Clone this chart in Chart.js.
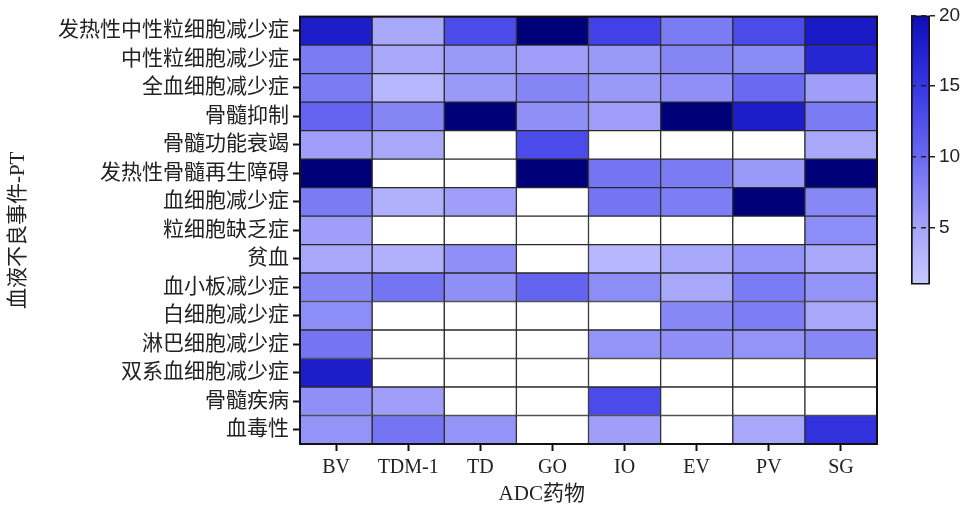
<!DOCTYPE html>
<html>
<head>
<meta charset="utf-8">
<script src="https://cdn.jsdelivr.net/npm/chart.js@4"></script>
<style>
html,body{margin:0;padding:0;background:#fff;}
#wrap{position:relative;width:963px;height:508px;}
canvas{position:absolute;left:0;top:0;}
</style>
</head>
<body>
<div id="wrap">
<canvas id="main" width="963" height="508"></canvas>
<canvas id="cb" width="83" height="300" style="left:880px;top:0;"></canvas>
</div>
<script>
// ---- data ----
const rowLabels = ['发热性中性粒细胞减少症','中性粒细胞减少症','全血细胞减少症','骨髓抑制','骨髓功能衰竭','发热性骨髓再生障碍','血细胞减少症','粒细胞缺乏症','贫血','血小板减少症','白细胞减少症','淋巴细胞减少症','双系血细胞减少症','骨髓疾病','血毒性'];
const drugs = ['BV','TDM-1','TD','GO','IO','EV','PV','SG'];
// null = no report (white cell); values above 20 are off-scale (navy)
const BV   = [18, 8.5, 8.5, 10.5, 5.5, 22, 8.5, 5.5, 4.7, 7.7, 7, 9, 18, 6.8, 6.4];
const TDM1 = [4.7, 4.7, 3, 7.7, 4.7, null, 3.8, null, 3.8, 9, null, null, null, 5.5, 9];
const TD   = [13, 6, 6, 22, null, null, 5.5, null, 6.8, 6.8, null, null, null, null, 6.4];
const GO   = [22, 5.5, 7.7, 6.8, 13, 22, null, null, null, 10.5, null, null, null, null, null];
const IO   = [14, 6, 6, 5.5, null, 9, 9, null, 3, 7, null, 6.4, null, 13, 5.5];
const EV   = [8.5, 7.7, 6.8, 22, null, 8.5, 8.3, null, 4.7, 4.7, 7.5, 6.8, null, null, null];
const PV   = [13, 7.2, 10, 18, null, 6, 22, null, 6.4, 8.5, 8.3, 6.4, null, null, 4.7];
const SG   = [18.5, 17, 5.5, 8.5, 4.7, 22, 7.5, 7, 4.7, 6.4, 4.7, 7.5, null, null, 15.7];
const colorTicks = [5, 10, 15, 20];
const scaleMin = 1, scaleMax = 20;

// ---- styling ----
const SERIF = "'Liberation Serif', 'Noto Sans CJK SC', serif";
const SANS = "'Liberation Sans', Arial, sans-serif";
const stops = [[1,[200,200,255]],[5,[165,165,250]],[10,[105,105,242]],[15,[55,55,228]],[20,[12,12,185]]];
function cellColor(v){
  if (v === null || v === undefined) return '#ffffff';
  if (v > scaleMax) return 'rgb(0,0,120)';
  if (v <= stops[0][0]) return 'rgb(' + stops[0][1].join(',') + ')';
  for (let i = 1; i < stops.length; i++) {
    if (v <= stops[i][0]) {
      const [a, ca] = stops[i-1], [b, cb] = stops[i];
      const t = (v - a) / (b - a);
      const c = ca.map((x, k) => Math.round(x + (cb[k] - x) * t));
      return 'rgb(' + c.join(',') + ')';
    }
  }
  return 'rgb(' + stops[stops.length-1][1].join(',') + ')';
}

const valueCols = [BV, TDM1, TD, GO, IO, EV, PV, SG];
const datasets = valueCols.map((vals, c) => ({
  label: drugs[c],
  data: rowLabels.map(() => [c, c + 1]),
  backgroundColor: vals.map(cellColor),
  borderColor: '#2a2a2a',
  borderWidth: 1,
  borderSkipped: false,
  barPercentage: 1,
  categoryPercentage: 1,
  grouped: false
}));

const framePlugin = {
  id: 'frame',
  afterDatasetsDraw(chart) {
    const {ctx, chartArea: a} = chart;
    ctx.save();
    ctx.strokeStyle = '#111';
    ctx.lineWidth = 2;
    ctx.strokeRect(a.left, a.top, a.right - a.left, a.bottom - a.top);
    ctx.restore();
  },
  afterDraw(chart) {
    const {ctx, chartArea: a} = chart;
    ctx.save();
    ctx.fillStyle = '#222';
    ctx.font = "21px " + SERIF;
    ctx.textAlign = 'center';
    ctx.textBaseline = 'middle';
    ctx.fillText('ADC药物', a.left + (a.right - a.left) * 0.419, a.bottom + 50);
    ctx.restore();
  }
};

new Chart(document.getElementById('main'), {
  type: 'bar',
  data: { labels: rowLabels, datasets },
  options: {
    indexAxis: 'y',
    responsive: false,
    animation: false,
    layout: { padding: { left: 4, right: 86, top: 14, bottom: 0 } },
    plugins: { legend: { display: false }, tooltip: { enabled: false } },
    scales: {
      x: {
        type: 'linear', min: 0, max: drugs.length,
        afterBuildTicks(s) { s.ticks = drugs.map((_, i) => ({ value: i + 0.5 })); },
        afterFit(s) { s.height = 64; },
        ticks: { callback: (v, i) => drugs[i], font: { family: SERIF, size: 20 }, color: '#222', padding: 5, autoSkip: false, maxRotation: 0 },
        grid: { drawOnChartArea: false, tickLength: 7, tickWidth: 2, color: '#111' },
        border: { display: true, width: 2, color: '#111' }
      },
      y: {
        type: 'category',
        afterFit(s) { s.width = 296; },
        grid: { offset: false, drawOnChartArea: false, tickLength: 7, tickWidth: 2, color: '#111' },
        border: { display: true, width: 2, color: '#111' },
        ticks: { font: { family: SERIF, size: 21 }, color: '#222', padding: 4, autoSkip: false },
        title: { display: true, text: '血液不良事件-PT', font: { family: SERIF, size: 21 }, color: '#222', padding: { top: 2, bottom: 0 } }
      }
    }
  },
  plugins: [framePlugin]
});

// ---- colour bar ----
new Chart(document.getElementById('cb'), {
  type: 'bar',
  data: {
    labels: [''],
    datasets: [{
      data: [[scaleMin, scaleMax]],
      backgroundColor(ctx) {
        const ch = ctx.chart, ys = ch.scales.y;
        if (!ch.chartArea || !ys) return cellColor(10);
        const g = ch.ctx.createLinearGradient(0, ys.getPixelForValue(scaleMin), 0, ys.getPixelForValue(scaleMax));
        for (let v = scaleMin; v <= scaleMax; v++) g.addColorStop((v - scaleMin) / (scaleMax - scaleMin), cellColor(v));
        return g;
      },
      borderColor: '#111',
      borderWidth: 2,
      borderSkipped: false,
      barPercentage: 1,
      categoryPercentage: 1
    }]
  },
  options: {
    responsive: false,
    animation: false,
    layout: { padding: { left: 31, top: 14, bottom: 15, right: 0 } },
    plugins: { legend: { display: false }, tooltip: { enabled: false } },
    scales: {
      x: { display: false },
      y: {
        position: 'right', min: scaleMin, max: scaleMax, z: 1,
        afterBuildTicks(s) { s.ticks = colorTicks.map(v => ({ value: v })); },
        afterFit(s) { s.width = 33; },
        grid: { z: 1, drawOnChartArea: true, color: '#222', lineWidth: 1.5, tickLength: 5 },
        border: { display: false, dash: [5, 5] },
        ticks: { font: { family: SANS, size: 19 }, color: '#222', padding: 4 }
      }
    }
  }
});
</script>
</body>
</html>
